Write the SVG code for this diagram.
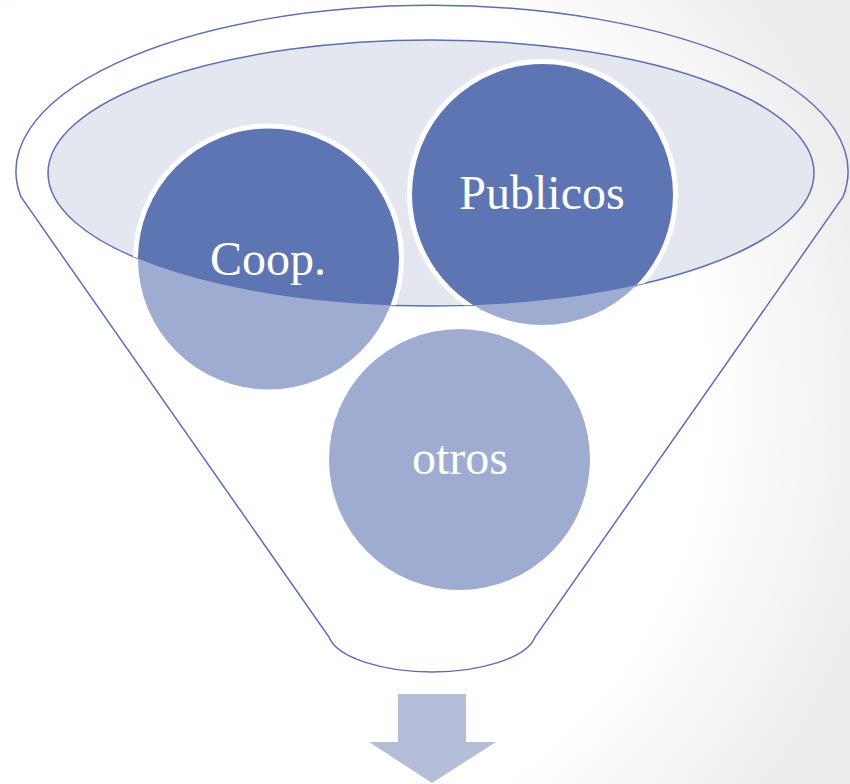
<svg xmlns="http://www.w3.org/2000/svg" width="850" height="784" viewBox="0 0 850 784">
  <defs>
    <radialGradient id="bg" gradientUnits="userSpaceOnUse" cx="250" cy="400" r="650">
      <stop offset="0.7" stop-color="#ffffff"/>
      <stop offset="1" stop-color="#ececec"/>
    </radialGradient>
    <clipPath id="rim">
      <ellipse cx="431" cy="173" rx="383" ry="133"/>
    </clipPath>
  </defs>
  <style>
    .outline { fill: none; stroke: #5b6fb3; stroke-width: 1.5; }
    .rimfill { fill: #e4e7f0; stroke: #5b6fb3; stroke-width: 1.5; }
    .light { fill: #9eacd2; }
    .dark { fill: #5e75b3; stroke: #ffffff; stroke-width: 5; }
    .lbl { font-family: "Liberation Serif", "Times New Roman", serif; font-size: 48px; fill: #ffffff; text-anchor: middle; }
    .arrow { fill: #b5bed9; }
  </style>
  <rect x="0" y="0" width="850" height="784" fill="url(#bg)"/>

  <g id="funnel">
    <path class="outline" d="M21,197 A416,166 0 1 1 843,197 L535,637 C527,658 480,672 432,672 C384,672 337,658 329,637 Z"/>
    <ellipse class="rimfill" cx="431" cy="173" rx="383" ry="133"/>
  </g>

  <g id="otros">
    <circle class="light" cx="459.5" cy="459.5" r="130.5"/>
    <text class="lbl" x="460" y="474">otros</text>
  </g>

  <g id="coop">
    <circle class="light" cx="268.5" cy="259" r="130.5"/>
    <g clip-path="url(#rim)">
      <circle class="dark" cx="268.5" cy="259" r="133"/>
    </g>
    <text class="lbl" x="268" y="275">Coop.</text>
  </g>

  <g id="publicos">
    <circle class="light" cx="542.5" cy="194.5" r="130.5"/>
    <g clip-path="url(#rim)">
      <circle class="dark" cx="542.5" cy="194.5" r="133"/>
    </g>
    <text class="lbl" x="542" y="209">Publicos</text>
  </g>

  <g id="connectors">
    <path class="arrow" d="M398,694 L466,694 L466,742 L496,742 L432,783 L369,742 L398,742 Z"/>
  </g>
</svg>
